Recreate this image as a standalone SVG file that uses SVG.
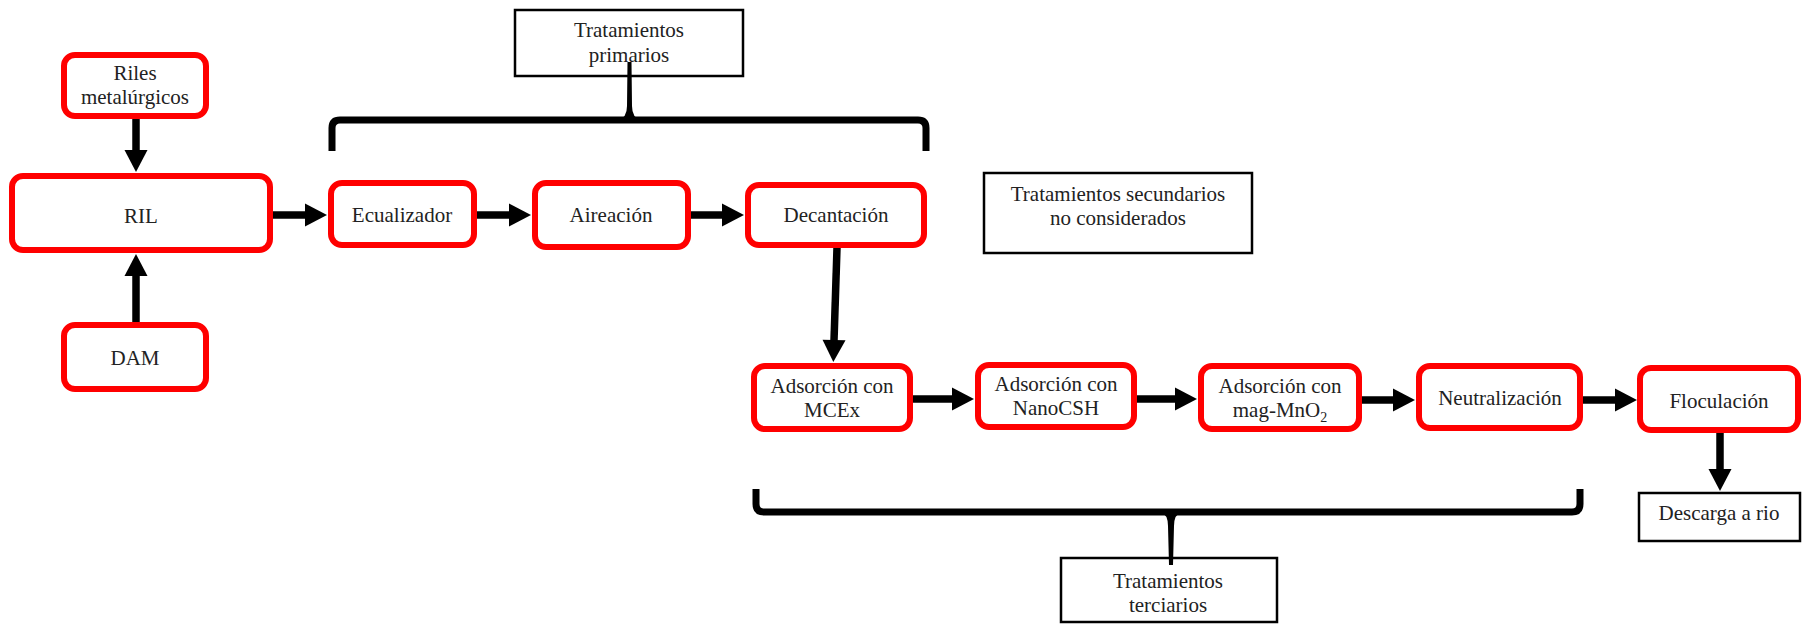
<svg xmlns="http://www.w3.org/2000/svg" width="1808" height="624" viewBox="0 0 1808 624">
<style>
  .rb { fill: #ffffff; stroke: #ff0000; stroke-width: 6; }
  .bb { fill: #ffffff; stroke: #000000; stroke-width: 2.5; }
  .t { font-family: "Liberation Serif", "Times New Roman", serif; font-size: 21px; fill: #222222; text-anchor: middle; }
  .c { stroke: #000000; stroke-width: 7.5; fill: none; marker-end: url(#ah); }
  .br { stroke: #000000; stroke-width: 7; fill: none; }
</style>
<defs>
  <marker id="ah" markerUnits="userSpaceOnUse" markerWidth="24" markerHeight="24" viewBox="0 -12 23 24" refX="1" refY="0" orient="auto">
    <path d="M0,-11.5 L22,0 L0,11.5 z" fill="#000000"/>
  </marker>
</defs>
<rect width="1808" height="624" fill="#ffffff"/>

<g id="connectors">
  <line class="c" x1="136" y1="119" x2="136" y2="151"/>
  <line class="c" x1="136" y1="322" x2="136" y2="275"/>
  <line class="c" x1="273" y1="215" x2="306" y2="215"/>
  <line class="c" x1="477" y1="215" x2="510" y2="215"/>
  <line class="c" x1="691" y1="215" x2="723" y2="215"/>
  <line class="c" x1="837" y1="248" x2="834" y2="341"/>
  <line class="c" x1="913" y1="399" x2="953" y2="399"/>
  <line class="c" x1="1137" y1="399" x2="1176" y2="399"/>
  <line class="c" x1="1362" y1="400" x2="1394" y2="400"/>
  <line class="c" x1="1583" y1="400" x2="1616" y2="400"/>
  <line class="c" x1="1720" y1="433" x2="1720" y2="470"/>
</g>

<g id="riles">
  <rect class="rb" x="64" y="55" width="142" height="61" rx="11"/>
  <text class="t" x="135" y="80">Riles</text>
  <text class="t" x="135" y="104">metalúrgicos</text>
</g>
<g id="ril">
  <rect class="rb" x="12" y="176" width="258" height="74" rx="11"/>
  <text class="t" x="141" y="223">RIL</text>
</g>
<g id="dam">
  <rect class="rb" x="64" y="325" width="142" height="64" rx="11"/>
  <text class="t" x="135" y="365">DAM</text>
</g>
<g id="ecualizador">
  <rect class="rb" x="331" y="183" width="143" height="62" rx="11"/>
  <text class="t" x="402" y="222">Ecualizador</text>
</g>
<g id="aireacion">
  <rect class="rb" x="535" y="183" width="153" height="64" rx="11"/>
  <text class="t" x="611" y="222">Aireación</text>
</g>
<g id="decantacion">
  <rect class="rb" x="748" y="185" width="176" height="60" rx="11"/>
  <text class="t" x="836" y="222">Decantación</text>
</g>
<g id="primarios">
  <rect class="bb" x="515" y="10" width="228" height="66"/>
  <text class="t" x="629" y="37">Tratamientos</text>
  <text class="t" x="629" y="62">primarios</text>
</g>
<g id="secundarios">
  <rect class="bb" x="984" y="173" width="268" height="80"/>
  <text class="t" x="1118" y="201">Tratamientos secundarios</text>
  <text class="t" x="1118" y="225">no considerados</text>
</g>
<g id="mcex">
  <rect class="rb" x="754" y="366" width="156" height="63" rx="11"/>
  <text class="t" x="832" y="393">Adsorción con</text>
  <text class="t" x="832" y="417">MCEx</text>
</g>
<g id="nanocsh">
  <rect class="rb" x="978" y="365" width="156" height="62" rx="11"/>
  <text class="t" x="1056" y="391">Adsorción con</text>
  <text class="t" x="1056" y="415">NanoCSH</text>
</g>
<g id="magmno2">
  <rect class="rb" x="1201" y="366" width="158" height="63" rx="11"/>
  <text class="t" x="1280" y="393">Adsorción con</text>
  <text class="t" x="1280" y="417">mag-MnO<tspan font-size="14" dy="5">2</tspan></text>
</g>
<g id="neutralizacion">
  <rect class="rb" x="1419" y="366" width="161" height="62" rx="11"/>
  <text class="t" x="1500" y="405">Neutralización</text>
</g>
<g id="floculacion">
  <rect class="rb" x="1640" y="368" width="158" height="62" rx="11"/>
  <text class="t" x="1719" y="408">Floculación</text>
</g>
<g id="descarga">
  <rect class="bb" x="1639" y="493" width="161" height="48"/>
  <text class="t" x="1719" y="520">Descarga a rio</text>
</g>
<g id="terciarios">
  <rect class="bb" x="1061" y="558" width="216" height="64"/>
  <text class="t" x="1168" y="588">Tratamientos</text>
  <text class="t" x="1168" y="612">terciarios</text>
</g>

<g id="brackets">
  <path class="br" d="M332,151 V128 Q332,120 340,120 H918 Q926,120 926,128 V151"/>
  <path d="M618,120 Q627,118 627,106 L627.5,62 L631.5,62 L632,106 Q632,118 641,120 Z" fill="#000000"/>
  <path class="br" d="M756,489 V504 Q756,512 764,512 H1572 Q1580,512 1580,504 V489"/>
  <path d="M1160,512 Q1168,514 1168,526 L1169,565 L1173,565 L1174,526 Q1174,514 1182,512 Z" fill="#000000"/>
</g>
</svg>
